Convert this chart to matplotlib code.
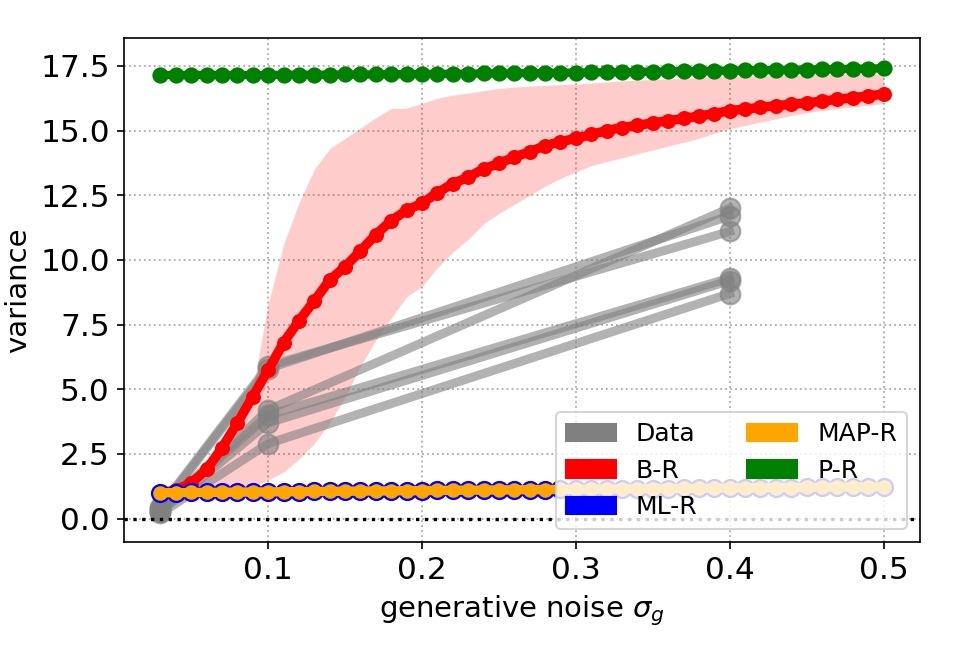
import matplotlib
matplotlib.use("Agg")
import matplotlib.pyplot as plt
from matplotlib.patches import Patch

# ---- data ----
sigma = [0.03, 0.04, 0.05, 0.06, 0.07, 0.08, 0.09, 0.10, 0.11, 0.12,
         0.13, 0.14, 0.15, 0.16, 0.17, 0.18, 0.19, 0.20, 0.21, 0.22,
         0.23, 0.24, 0.25, 0.26, 0.27, 0.28, 0.29, 0.30, 0.31, 0.32,
         0.33, 0.34, 0.35, 0.36, 0.37, 0.38, 0.39, 0.40, 0.41, 0.42,
         0.43, 0.44, 0.45, 0.46, 0.47, 0.48, 0.49, 0.50]

br_mean = [1.00, 1.10, 1.38, 1.90, 2.74, 3.70, 4.72, 5.75, 6.80, 7.65,
           8.42, 9.22, 9.74, 10.35, 10.98, 11.52, 11.92, 12.19, 12.60, 12.95,
           13.20, 13.52, 13.73, 13.98, 14.18, 14.42, 14.57, 14.70, 14.85, 15.00,
           15.12, 15.20, 15.30, 15.38, 15.47, 15.56, 15.66, 15.77, 15.83, 15.90,
           15.96, 16.02, 16.07, 16.14, 16.21, 16.27, 16.34, 16.41]

br_upper = [1.02, 1.15, 1.50, 2.10, 3.00, 4.00, 5.00, 8.30, 10.60, 12.20,
            13.50, 14.30, 14.70, 15.10, 15.50, 15.85, 15.87, 16.05, 16.25, 16.37,
            16.45, 16.55, 16.63, 16.68, 16.72, 16.75, 16.78, 16.80, 16.84, 16.88,
            16.92, 16.95, 16.98, 17.00, 17.02, 17.05, 17.08, 17.10, 17.11, 17.12,
            17.13, 17.14, 17.15, 17.16, 17.17, 17.18, 17.19, 17.20]

br_lower = [0.95, 0.95, 0.97, 1.00, 1.02, 1.05, 1.20, 1.50, 1.80, 2.30,
            2.90, 3.70, 4.70, 5.90, 6.90, 7.75, 8.58, 8.97, 9.70, 10.30,
            10.80, 11.40, 11.80, 12.15, 12.50, 12.85, 13.15, 13.40, 13.65, 13.80,
            13.95, 14.10, 14.25, 14.40, 14.55, 14.70, 14.90, 15.08, 15.20, 15.33,
            15.45, 15.58, 15.70, 15.78, 15.85, 15.92, 15.98, 16.05]

ml_r = [1.00, 1.00, 1.01, 1.01, 1.02, 1.02, 1.03, 1.03, 1.04, 1.04,
        1.05, 1.05, 1.06, 1.06, 1.07, 1.07, 1.08, 1.08, 1.09, 1.09,
        1.10, 1.10, 1.11, 1.11, 1.12, 1.12, 1.13, 1.13, 1.14, 1.14,
        1.15, 1.15, 1.16, 1.16, 1.17, 1.17, 1.18, 1.18, 1.19, 1.19,
        1.20, 1.20, 1.21, 1.21, 1.22, 1.22, 1.23, 1.23]

map_r = [1.00, 1.00, 1.01, 1.01, 1.02, 1.02, 1.03, 1.03, 1.04, 1.04,
         1.05, 1.05, 1.06, 1.06, 1.07, 1.07, 1.08, 1.08, 1.09, 1.09,
         1.10, 1.10, 1.11, 1.11, 1.12, 1.12, 1.13, 1.13, 1.14, 1.14,
         1.15, 1.15, 1.16, 1.16, 1.17, 1.17, 1.18, 1.18, 1.19, 1.19,
         1.20, 1.20, 1.21, 1.21, 1.22, 1.22, 1.23, 1.23]

p_r = [17.15, 17.15, 17.15, 17.15, 17.15, 17.15, 17.15, 17.15, 17.16, 17.16,
       17.16, 17.16, 17.17, 17.17, 17.17, 17.18, 17.18, 17.19, 17.19, 17.20,
       17.20, 17.21, 17.21, 17.22, 17.22, 17.23, 17.24, 17.24, 17.25, 17.26,
       17.26, 17.27, 17.28, 17.29, 17.30, 17.30, 17.31, 17.32, 17.33, 17.34,
       17.34, 17.35, 17.36, 17.37, 17.38, 17.39, 17.40, 17.41]

data_x = [0.03, 0.10, 0.40]
data_1 = [0.45, 5.90, 11.10]
data_2 = [0.40, 5.80, 11.70]
data_3 = [0.35, 4.20, 12.00]
data_4 = [0.30, 4.00, 9.30]
data_5 = [0.25, 3.70, 9.20]
data_6 = [0.20, 2.90, 8.70]
data_series = [data_1, data_2, data_3, data_4, data_5, data_6]

legend_labels = ["Data", "B-R", "ML-R", "MAP-R", "P-R"]
legend_colors = ["gray", "red", "blue", "orange", "green"]

# ---- figure ----
fig = plt.figure(figsize=(6.4, 4.4), dpi=150)
ax = fig.add_axes([0.1295, 0.179, 0.8285, 0.763])

ax.fill_between(sigma, br_lower, br_upper, color="red", alpha=0.2, lw=0, zorder=1)

for d in data_series:
    ax.plot(data_x, d, color="gray", alpha=0.6, lw=4.3, marker="o", ms=9.5, zorder=2)

ax.plot(sigma, br_mean, color="red", lw=4.6, marker="o", ms=6.2, zorder=3)
ax.plot(sigma, ml_r, color="blue", lw=4, marker="o", ms=8.2, zorder=4)
ax.plot(sigma, map_r, color="orange", lw=4.5, marker="o", ms=7.0, mew=0, zorder=5)
ax.plot(sigma, p_r, color="green", lw=4.0, marker="o", ms=6.8, zorder=6)

ax.axhline(0, color="black", ls=":", lw=1.6, zorder=2.5)

ax.set_xlim(0.0065, 0.5235)
ax.set_ylim(-0.9, 18.57)
ax.set_xticks([0.1, 0.2, 0.3, 0.4, 0.5])
ax.set_xticklabels(["0.1", "0.2", "0.3", "0.4", "0.5"])
ax.set_yticks([0.0, 2.5, 5.0, 7.5, 10.0, 12.5, 15.0, 17.5])
ax.set_yticklabels(["0.0", "2.5", "5.0", "7.5", "10.0", "12.5", "15.0", "17.5"])
ax.tick_params(labelsize=15)
ax.grid(True, ls=":", color="#b0b0b0", lw=0.9)
ax.set_axisbelow(True)

ax.set_xlabel(r"generative noise $\sigma_g$", fontsize=14)
ax.set_ylabel("variance", fontsize=14)

handles = [Patch(color=c, label=l) for c, l in zip(legend_colors, legend_labels)]
leg = ax.legend(handles=handles, loc="lower right", ncol=2, fontsize=12)
leg.set_zorder(10)

fig.savefig("out.png", dpi=150)
